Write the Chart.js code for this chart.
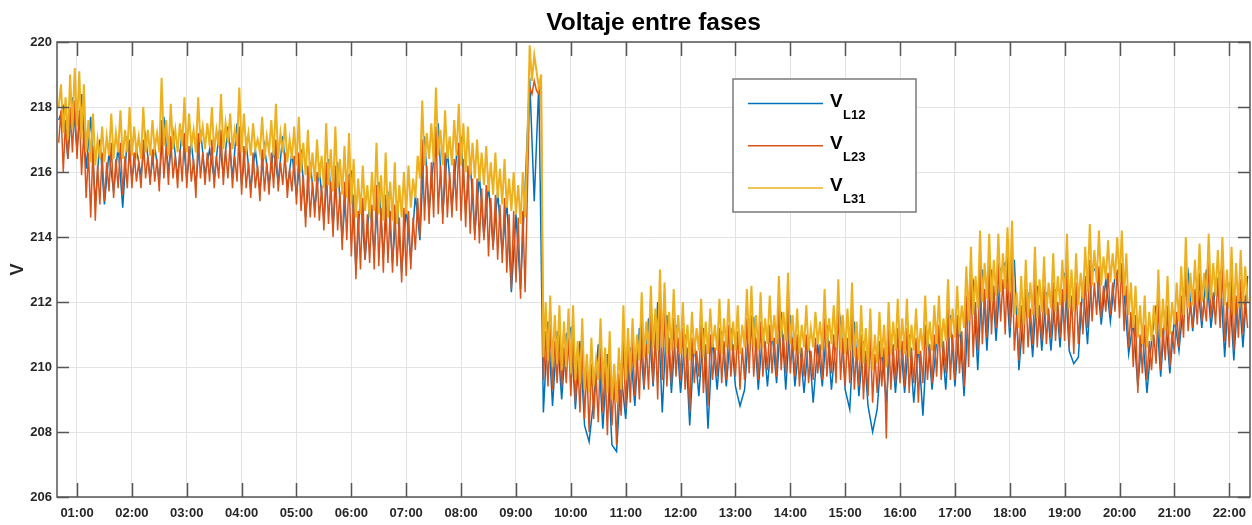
<!DOCTYPE html>
<html>
<head>
<meta charset="utf-8">
<title>Voltaje entre fases</title>
<script src="https://cdn.jsdelivr.net/npm/chart.js@4"></script>
<style>
  html, body { margin: 0; padding: 0; background: #fff; }
  #wrap { width: 1252px; height: 525px; position: relative; }
</style>
</head>
<body>
<div id="wrap"><canvas id="voltChart" width="1252" height="525"></canvas></div>
<script>
// first sample at 00:40; L23/L31 read every 2.5 min, L12 every 5 min
const startHour = 40 / 60;
const stepFine = 2.5 / 60;
const stepCoarse = 5 / 60;

const tickHours = [1, 2, 3, 4, 5, 6, 7, 8, 9, 10, 11, 12, 13, 14, 15, 16, 17, 18, 19, 20, 21, 22];
const tickLabels = ["01:00", "02:00", "03:00", "04:00", "05:00", "06:00", "07:00", "08:00", "09:00", "10:00", "11:00",
  "12:00", "13:00", "14:00", "15:00", "16:00", "17:00", "18:00", "19:00", "20:00", "21:00", "22:00"];
const seriesNames = ["L12", "L23", "L31"];

const vL12 = [
  217.6, 218.0, 216.4, 218.3,
  216.7, 218.4, 216.1, 217.7, 215.0, 217.0, 215.0, 216.6, 215.4, 216.8, 214.9, 217.1,
  215.8, 216.7, 215.9, 217.1, 215.8, 216.8, 215.7, 217.7, 216.0, 217.2, 215.8, 217.3,
  215.8, 216.9, 215.6, 217.3, 215.9, 216.7, 215.8, 217.1, 215.9, 217.4, 215.8, 217.5,
  215.6, 216.9, 215.5, 216.7, 215.4, 216.8, 215.6, 216.7, 215.7, 217.1, 215.5, 216.6,
  215.3, 216.7, 214.6, 216.3, 214.9, 216.1, 214.5, 216.4, 214.3, 216.3, 213.9, 215.8,
  216.0, 213.0, 215.3, 213.3, 215.1, 213.5, 215.7, 213.4, 215.4, 213.2, 215.1, 212.9,
  214.9, 213.3, 215.3, 213.9, 217.1, 214.8, 216.4, 217.5, 214.7, 216.7, 214.9, 216.5,
  217.0, 214.8, 216.3, 214.1, 215.9, 214.0, 215.6, 213.7, 215.4, 213.5, 215.1, 212.3,
  214.7, 212.4, 215.5, 218.9, 215.1, 218.7, 208.6, 211.4, 208.8, 211.1, 209.0, 211.0,
  211.2, 208.7, 210.8, 208.2, 207.7, 209.0, 210.7, 208.1, 210.4, 207.6, 207.4, 209.8,
  208.4, 210.6, 208.8, 211.2, 209.3, 211.5, 209.4, 212.0, 208.6, 211.6, 209.2, 211.3,
  209.2, 211.0, 208.2, 210.8, 209.1, 211.2, 208.1, 210.9, 209.3, 211.1, 209.4, 211.2,
  209.4, 208.8, 209.3, 211.3, 211.5, 209.3, 211.2, 209.4, 211.1, 209.5, 211.7, 209.3,
  211.6, 209.4, 210.8, 209.2, 210.9, 208.9, 210.7, 209.4, 211.3, 209.3, 210.9, 211.5,
  209.3, 208.7, 211.4, 209.1, 210.8, 208.8, 208.0, 208.7, 210.6, 208.9, 211.0, 209.2,
  211.0, 209.2, 211.0, 208.9, 210.7, 208.5, 211.1, 209.3, 210.8, 211.1, 209.3, 211.6,
  209.4, 211.4, 209.1, 212.0, 212.6, 209.9, 213.0, 210.5, 213.0, 210.8, 213.0, 213.2,
  210.9, 213.3, 209.9, 211.7, 212.2, 210.3, 212.5, 210.5, 212.3, 210.5, 212.4, 210.6,
  212.9, 210.5, 210.1, 210.3, 212.6, 210.7, 213.1, 212.9, 211.3, 212.7, 211.4, 212.8,
  213.0, 212.3, 210.4, 211.4, 209.4, 211.1, 209.2, 210.8, 211.9, 209.7, 211.7, 209.8,
  211.5, 210.5, 212.0, 212.9, 211.1, 212.7, 211.2, 213.0, 211.2, 212.5, 212.9, 210.3,
  212.6, 210.2, 212.5, 210.6, 212.8
];

const vL23 = [
  216.9, 217.9, 216.0, 217.6, 216.4, 218.0, 216.6, 218.2,
  216.4, 217.9, 215.9, 217.3, 215.2, 216.6, 214.6, 216.8, 214.5, 216.2, 215.0, 216.6, 215.1, 216.3, 215.4, 216.9, 215.2, 216.4, 215.5, 216.9, 215.3, 216.5, 215.5, 217.0,
  215.5, 216.6, 215.7, 216.3, 215.5, 217.0, 215.8, 216.5, 215.6, 216.7, 215.7, 216.4, 215.4, 217.6, 215.8, 216.8, 215.6, 217.1, 215.8, 216.5, 215.5, 216.7, 215.7, 217.2,
  215.5, 216.8, 215.7, 216.4, 215.2, 217.2, 215.8, 216.6, 215.6, 216.6, 215.7, 217.0, 215.5, 216.5, 215.8, 217.3, 215.6, 216.7, 215.8, 216.9, 215.5, 216.5, 215.7, 217.4,
  215.3, 216.8, 215.5, 216.3, 215.2, 216.6, 215.5, 216.2, 215.1, 216.7, 215.4, 216.3, 215.3, 216.6, 215.5, 217.0, 215.4, 216.3, 215.6, 216.6, 215.2, 216.1, 215.4, 216.5,
  215.0, 216.6, 214.8, 215.9, 214.3, 216.2, 214.6, 215.7, 214.6, 216.0, 214.5, 215.6, 214.2, 216.3, 214.4, 215.7, 214.0, 216.2, 214.2, 215.4, 213.6, 215.7, 213.9, 215.9,
  213.4, 215.3, 212.7, 214.8, 213.0, 215.2, 213.3, 214.7, 213.2, 215.0, 213.0, 215.6, 213.1, 214.9, 212.9, 215.3, 213.2, 214.8, 212.9, 215.0, 213.1, 214.6, 212.6, 214.9,
  212.8, 214.8, 213.0, 214.6, 213.6, 215.2, 214.0, 217.0, 214.5, 216.2, 214.4, 216.3, 214.6, 217.4, 214.7, 216.2, 214.4, 216.6, 214.6, 216.0, 214.6, 216.4, 214.8, 216.9,
  214.5, 216.4, 214.3, 216.2, 214.1, 215.8, 213.9, 215.8, 213.8, 215.5, 213.9, 215.6, 213.4, 215.2, 213.6, 215.3, 213.3, 215.0, 213.2, 215.2, 212.9, 214.7, 212.4, 214.8,
  212.6, 214.6, 212.1, 214.8, 212.3, 215.4, 218.6, 218.4, 218.8, 218.5, 218.4, 218.9, 209.6, 211.1, 209.4, 211.3, 209.3, 210.8, 209.5, 211.0, 209.4, 210.6, 209.5, 210.9,
  209.1, 211.0, 208.9, 210.3, 208.6, 210.7, 208.4, 210.0, 208.0, 210.1, 208.4, 209.8, 208.3, 210.6, 208.6, 210.0, 207.9, 210.3, 208.2, 209.6, 207.6, 209.8, 208.5, 210.8,
  208.7, 210.6, 208.9, 210.8, 209.1, 210.4, 209.0, 211.4, 209.4, 210.7, 209.3, 211.6, 209.5, 211.0, 209.0, 212.1, 209.6, 211.7, 209.4, 210.9, 209.5, 211.5, 209.7, 210.9,
  209.6, 211.2, 209.3, 210.6, 208.6, 210.9, 209.5, 210.5, 209.7, 211.3, 209.2, 210.7, 208.8, 211.0, 209.6, 210.6, 209.7, 211.2, 209.5, 210.8, 209.6, 211.3, 209.7, 210.7,
  209.7, 211.1, 209.3, 210.6, 209.6, 211.5, 209.8, 211.6, 209.7, 210.9, 209.6, 211.4, 209.7, 210.8, 209.9, 211.3, 209.8, 210.9, 209.7, 211.9, 209.9, 211.0, 209.8, 211.9,
  209.8, 210.9, 209.7, 211.0, 209.4, 210.6, 209.7, 211.0, 209.5, 210.5, 209.6, 210.9, 209.8, 210.7, 209.6, 211.5, 209.7, 210.8, 209.8, 211.0, 209.5, 211.8, 209.6, 210.9,
  209.4, 210.9, 209.5, 211.7, 209.3, 210.6, 209.4, 211.0, 209.0, 210.5, 209.1, 211.0, 208.9, 210.4, 209.2, 210.8, 209.4, 210.6, 207.8, 211.2, 209.3, 210.7, 209.5, 211.2,
  209.5, 210.8, 209.4, 211.2, 209.2, 210.6, 209.5, 210.9, 208.9, 210.5, 209.5, 211.3, 209.6, 210.7, 209.5, 211.0, 209.7, 211.3, 209.6, 210.8, 209.8, 211.8, 209.6, 211.0,
  209.6, 211.6, 209.8, 211.1, 209.4, 212.2, 210.0, 212.8, 210.3, 212.0, 210.5, 213.2, 210.7, 212.4, 210.9, 213.2, 211.0, 212.5, 211.2, 213.2, 211.4, 212.7, 211.0, 213.4,
  211.2, 213.5, 210.5, 211.6, 210.2, 211.9, 210.4, 212.4, 210.6, 211.8, 210.7, 212.7, 210.6, 211.9, 210.8, 212.5, 210.7, 211.8, 210.9, 212.6, 210.8, 212.0, 210.9, 212.4,
  210.8, 213.1, 210.6, 212.2, 210.4, 212.6, 210.7, 212.0, 211.0, 212.8, 211.2, 213.3, 211.4, 212.6, 211.6, 213.1, 211.5, 212.5, 211.7, 212.9, 211.6, 212.6, 211.7, 213.0,
  211.5, 213.2, 211.1, 212.5, 210.6, 211.7, 210.0, 211.6, 209.2, 211.0, 209.8, 211.3, 209.6, 210.8, 209.9, 211.0, 210.1, 212.1, 209.9, 211.2, 210.2, 211.9, 210.0, 211.1,
  210.4, 211.7, 210.6, 212.2, 210.9, 213.1, 211.1, 212.0, 211.2, 212.4, 211.3, 212.9, 211.4, 212.0, 211.4, 213.2, 211.5, 212.3, 211.3, 212.7, 211.2, 213.1, 210.8, 212.0,
  210.6, 212.8, 210.5, 212.2, 210.9, 212.7, 211.0, 212.2, 211.2
];

const vL31 = [
  218.0, 218.7, 217.2, 218.3, 217.0, 219.0, 217.3, 219.2,
  217.4, 219.1, 217.0, 218.7, 216.6, 217.6, 216.3, 217.8, 216.2, 217.0, 216.4, 217.4, 216.3, 217.1, 216.5, 217.8, 216.4, 217.2, 216.6, 217.9, 216.4, 217.3, 216.6, 218.0,
  216.5, 217.4, 216.6, 217.1, 216.4, 218.0, 216.6, 217.3, 216.5, 217.6, 216.7, 217.2, 216.6, 218.9, 216.8, 217.6, 216.5, 218.1, 216.7, 217.3, 216.6, 217.5, 216.8, 218.3,
  216.6, 217.8, 216.8, 217.3, 216.6, 218.3, 216.9, 217.4, 216.7, 217.5, 216.8, 218.0, 216.6, 217.3, 216.8, 218.4, 216.7, 217.5, 216.9, 217.8, 216.7, 217.3, 216.8, 218.6,
  216.6, 217.8, 216.7, 217.2, 216.5, 217.5, 216.7, 217.0, 216.6, 217.7, 216.4, 217.1, 216.6, 217.6, 216.5, 218.1, 216.4, 217.2, 216.6, 217.5, 216.3, 217.0, 216.4, 217.4,
  216.2, 217.7, 216.0, 216.9, 215.9, 217.3, 215.8, 216.6, 215.7, 217.0, 215.8, 216.5, 215.5, 217.5, 215.6, 216.7, 215.4, 217.4, 215.5, 216.4, 215.3, 216.8, 215.2, 217.2,
  215.0, 216.4, 214.6, 215.8, 214.7, 216.2, 214.8, 215.6, 214.6, 216.0, 214.8, 216.9, 214.7, 215.9, 214.5, 216.6, 214.6, 215.7, 214.5, 216.3, 214.4, 215.6, 214.6, 216.0,
  214.7, 216.2, 214.9, 215.8, 215.2, 216.5, 215.8, 218.2, 216.2, 217.2, 216.4, 217.5, 216.3, 218.6, 216.5, 217.3, 216.2, 217.9, 216.4, 217.1, 216.2, 217.6, 216.5, 218.1,
  216.2, 217.5, 216.0, 217.4, 215.9, 216.9, 215.8, 217.0, 215.7, 216.6, 215.6, 216.8, 215.4, 216.3, 215.3, 216.6, 215.2, 216.1, 215.0, 216.4, 214.9, 215.8, 214.8, 216.0,
  214.7, 215.6, 214.4, 216.0, 214.6, 216.9, 219.9, 218.8, 219.6, 219.1, 218.6, 219.0, 210.3, 212.0, 210.2, 212.2, 210.0, 211.6, 210.1, 211.9, 209.9, 211.4, 210.0, 211.8,
  209.8, 211.9, 209.6, 210.8, 209.5, 211.5, 209.3, 210.4, 209.2, 210.9, 209.4, 210.2, 209.6, 211.5, 209.5, 210.6, 209.2, 211.1, 209.0, 210.1, 208.9, 210.6, 209.3, 211.9,
  209.6, 211.2, 209.8, 211.5, 210.0, 211.0, 210.2, 212.3, 210.3, 211.4, 210.4, 212.5, 210.6, 211.8, 210.5, 213.0, 210.6, 212.6, 210.4, 211.7, 210.5, 212.4, 210.6, 211.6,
  210.4, 212.0, 210.3, 211.3, 210.2, 211.7, 210.4, 211.2, 210.5, 212.1, 210.3, 211.4, 210.4, 211.8, 210.6, 211.3, 210.5, 212.1, 210.4, 211.5, 210.6, 212.1, 210.5, 211.4,
  210.5, 211.9, 210.4, 211.3, 210.6, 212.4, 210.7, 212.5, 210.6, 211.6, 210.5, 212.3, 210.6, 211.5, 210.7, 212.2, 210.8, 211.6, 210.7, 212.8, 210.9, 211.7, 210.8, 212.9,
  210.7, 211.6, 210.5, 211.8, 210.4, 211.3, 210.6, 211.9, 210.5, 211.2, 210.6, 211.7, 210.7, 211.4, 210.5, 212.4, 210.6, 211.5, 210.7, 211.9, 210.6, 212.7, 210.5, 211.6,
  210.4, 211.8, 210.5, 212.6, 210.3, 211.4, 210.2, 211.9, 210.1, 211.2, 210.0, 211.8, 209.9, 211.0, 210.1, 211.7, 210.3, 211.3, 210.0, 212.0, 210.4, 211.4, 210.5, 212.1,
  210.5, 211.5, 210.4, 212.1, 210.3, 211.3, 210.5, 211.8, 210.4, 211.2, 210.5, 212.2, 210.6, 211.4, 210.5, 211.9, 210.7, 212.2, 210.6, 211.5, 210.8, 212.7, 210.9, 211.8,
  210.9, 212.5, 211.0, 211.9, 211.2, 213.1, 211.4, 213.7, 211.6, 212.8, 211.8, 214.2, 212.0, 213.2, 212.1, 214.1, 212.0, 213.3, 212.2, 214.1, 212.3, 213.5, 212.4, 214.3,
  212.3, 214.5, 211.6, 212.3, 211.2, 212.8, 211.3, 213.3, 211.5, 212.6, 211.6, 213.7, 211.5, 212.7, 211.7, 213.4, 211.6, 212.6, 211.8, 213.5, 211.7, 212.8, 211.9, 213.3,
  212.0, 214.1, 211.8, 213.0, 211.7, 213.5, 211.9, 212.9, 212.1, 213.7, 212.3, 214.4, 212.5, 213.6, 212.6, 214.2, 212.5, 213.4, 212.7, 213.9, 212.6, 213.5, 212.7, 214.0,
  212.6, 214.2, 212.2, 213.5, 211.6, 212.6, 211.2, 212.5, 210.9, 211.9, 210.7, 212.2, 210.6, 211.7, 210.8, 211.9, 211.0, 213.0, 210.9, 212.1, 211.1, 212.8, 211.0, 212.0,
  211.3, 212.6, 211.4, 213.1, 211.6, 214.0, 211.8, 212.9, 211.9, 213.3, 212.0, 213.8, 212.0, 212.9, 212.1, 214.1, 212.1, 213.2, 212.2, 213.6, 212.1, 214.0, 211.9, 213.0,
  211.8, 213.7, 211.6, 213.2, 211.8, 213.6, 211.9, 213.1, 212.0
];

const colors = ["#0072BD", "#D95319", "#EDB120"];
const lineWidths = [1.5, 1.5, 2.0];
const steps = [stepCoarse, stepFine, stepFine];

function toPoints(values, step) {
  return values.map((v, i) => ({ x: startHour + i * step, y: v }));
}

const tickFont = { family: "'Liberation Sans', Arial, sans-serif", size: 13, weight: "bold" };

// box, inward ticks, title and legend like the MATLAB figure
const figureDecor = {
  id: "figureDecor",
  afterDatasetsDraw(chart) {
    const { ctx, chartArea: a, scales: { x, y } } = chart;
    ctx.save();
    ctx.strokeStyle = "#555";
    ctx.lineWidth = 1.5;
    ctx.beginPath();
    x.ticks.forEach(t => {
      const px = Math.round(x.getPixelForValue(t.value)) + 0.5;
      ctx.moveTo(px, a.bottom); ctx.lineTo(px, a.bottom - 14);
      ctx.moveTo(px, a.top); ctx.lineTo(px, a.top + 14);
    });
    y.ticks.forEach(t => {
      const py = Math.round(y.getPixelForValue(t.value)) + 0.5;
      ctx.moveTo(a.left, py); ctx.lineTo(a.left + 12, py);
      ctx.moveTo(a.right, py); ctx.lineTo(a.right - 12, py);
    });
    ctx.stroke();
    ctx.strokeRect(a.left, a.top, a.right - a.left, a.bottom - a.top);
    ctx.restore();
  },
  afterDraw(chart) {
    const { ctx, chartArea: a } = chart;
    ctx.save();
    ctx.fillStyle = "#000";
    ctx.font = "bold 24.5px 'Liberation Sans', Arial, sans-serif";
    ctx.textAlign = "center";
    ctx.textBaseline = "alphabetic";
    ctx.fillText("Voltaje entre fases", (a.left + a.right) / 2, 30);

    // legend box
    const bx = 733, by = 79, bw = 183, bh = 133;
    ctx.fillStyle = "#fff";
    ctx.fillRect(bx, by, bw, bh);
    ctx.strokeStyle = "#7a7a7a";
    ctx.lineWidth = 1.5;
    ctx.strokeRect(bx, by, bw, bh);
    chart.data.datasets.forEach((ds, i) => {
      const ly = 103.5 + i * 42.2;
      ctx.strokeStyle = ds.borderColor;
      ctx.lineWidth = 1.5;
      ctx.beginPath();
      ctx.moveTo(748, ly); ctx.lineTo(823, ly);
      ctx.stroke();
      ctx.fillStyle = "#000";
      ctx.textAlign = "left";
      ctx.font = "bold 19px 'Liberation Sans', Arial, sans-serif";
      ctx.fillText("V", 830, ly + 3.5);
      ctx.font = "bold 13px 'Liberation Sans', Arial, sans-serif";
      ctx.fillText(seriesNames[i], 843, ly + 15);
    });
    ctx.restore();
  }
};

const ctx = document.getElementById("voltChart").getContext("2d");

new Chart(ctx, {
  type: "line",
  data: {
    datasets: [vL12, vL23, vL31].map((vals, i) => ({
      label: "V" + seriesNames[i],
      data: toPoints(vals, steps[i]),
      borderColor: colors[i],
      backgroundColor: colors[i],
      borderWidth: lineWidths[i],
      borderJoinStyle: "miter",
      pointRadius: 0,
      tension: 0,
      fill: false,
      order: 3 - i
    }))
  },
  options: {
    responsive: false,
    animation: false,
    devicePixelRatio: 1,
    layout: { padding: { top: 42, right: 2, bottom: 0, left: 0 } },
    plugins: {
      legend: { display: false },
      title: { display: false },
      tooltip: { enabled: false }
    },
    scales: {
      x: {
        type: "linear",
        min: 0.6355,
        max: 22.378,
        afterBuildTicks: scale => {
          scale.ticks = tickHours.map(h => ({ value: h }));
        },
        afterFit: scale => {
          scale.height = 28;
          scale.paddingLeft = 0;
          scale.paddingRight = 0;
        },
        grid: { color: "#e3e3e3", lineWidth: 1, drawTicks: false },
        border: { display: false },
        ticks: {
          autoSkip: false,
          maxRotation: 0,
          padding: 9,
          color: "#262626",
          font: tickFont,
          callback: (value) => tickLabels[tickHours.indexOf(value)]
        }
      },
      y: {
        min: 206,
        max: 220,
        afterFit: scale => { scale.width = 57; },
        grid: { color: "#e3e3e3", lineWidth: 1, drawTicks: false },
        border: { display: false },
        ticks: {
          stepSize: 2,
          padding: 5,
          color: "#262626",
          font: tickFont
        },
        title: {
          display: true,
          text: "V",
          color: "#262626",
          font: { family: "'Liberation Sans', Arial, sans-serif", size: 18, weight: "bold" },
          padding: { top: 7, bottom: 0 }
        }
      }
    }
  },
  plugins: [figureDecor]
});
</script>
</body>
</html>
